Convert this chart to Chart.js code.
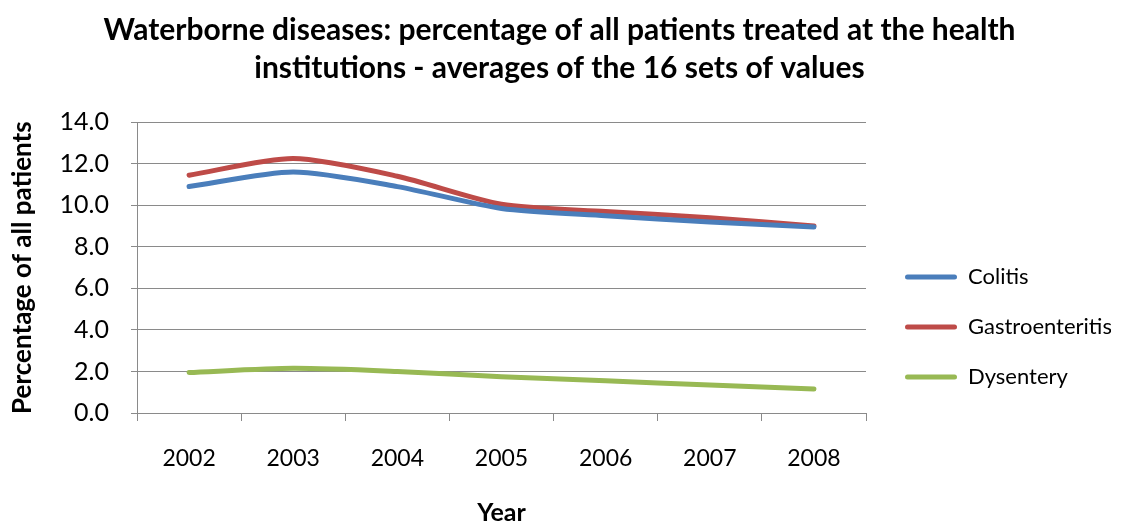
<!DOCTYPE html>
<html>
<head>
<meta charset="utf-8">
<script src="https://cdn.jsdelivr.net/npm/chart.js@4.4.0/dist/chart.umd.min.js"></script>
<style>
html, body { margin: 0; padding: 0; background: #fff; }
</style>
</head>
<body>
<canvas id="chart" width="1133" height="523"></canvas>
<script>
const years = ['2002', '2003', '2004', '2005', '2006', '2007', '2008'];
const colitis = [10.9, 11.6, 10.9, 9.85, 9.5, 9.2, 8.95];
const gastroenteritis = [11.45, 12.25, 11.4, 10.05, 9.7, 9.4, 9.0];
const dysentery = [1.95, 2.15, 2.0, 1.75, 1.55, 1.35, 1.15];
const yMin = 0, yMax = 14, yStep = 2;

const axisGrey = '#8a8a8a';
const fontFamily = 'Lato, "Open Sans", sans-serif';

// moves the legend block to where the reference has it
const legendShift = {
    id: 'legendShift',
    beforeDraw(chart) {
        const lg = chart.legend;
        const h = lg.bottom - lg.top;
        const pad = lg.options.labels.padding;
        const fs = lg.options.labels.font.size;
        lg.left = 905 - pad;
        lg.top = 277 - pad - fs / 2;
        lg.bottom = lg.top + h;
    }
};

const ctx = document.getElementById('chart').getContext('2d');
const chart = new Chart(ctx, {
    type: 'line',
    data: {
        labels: years,
        datasets: [
            { label: 'Colitis', data: colitis, borderColor: '#4a7ebb', backgroundColor: '#4a7ebb' },
            { label: 'Gastroenteritis', data: gastroenteritis, borderColor: '#be4b48', backgroundColor: '#be4b48' },
            { label: 'Dysentery', data: dysentery, borderColor: '#98b954', backgroundColor: '#98b954' }
        ]
    },
    options: {
        responsive: false,
        animation: false,
        layout: { padding: { left: 8, right: 10, top: 11, bottom: 0 } },
        datasets: {
            line: {
                borderWidth: 5,
                pointRadius: 0,
                tension: 0.25,
                borderCapStyle: 'round',
                borderJoinStyle: 'round'
            }
        },
        plugins: {
            title: {
                display: true,
                text: ['Waterborne diseases: percentage of all patients treated at the health',
                       'institutions - averages of the 16 sets of values'],
                color: '#000',
                font: { family: fontFamily, size: 30, weight: 'bold', lineHeight: 1.27 },
                padding: { top: 0, bottom: 35 }
            },
            legend: {
                position: 'right',
                align: 'start',
                labels: {
                    color: '#000',
                    font: { family: fontFamily, size: 22 },
                    boxWidth: 52,
                    boxHeight: 5,
                    padding: 28,
                    useBorderRadius: true,
                    borderRadius: 2.5,
                    generateLabels(chart) {
                        const items = Chart.defaults.plugins.legend.labels.generateLabels(chart);
                        items.forEach(it => { it.lineWidth = 0; it.fillStyle = it.strokeStyle; });
                        return items;
                    }
                }
            },
            tooltip: { enabled: false }
        },
        scales: {
            x: {
                offset: true,
                grid: {
                    offset: true,
                    drawOnChartArea: false,
                    drawTicks: true,
                    tickLength: 8,
                    color: axisGrey
                },
                border: { color: axisGrey, width: 1 },
                ticks: { color: '#000', font: { family: fontFamily, size: 23 }, padding: 24 },
                title: {
                    display: true,
                    text: 'Year',
                    color: '#000',
                    font: { family: fontFamily, size: 25, weight: 'bold', lineHeight: 1 },
                    padding: { top: 0, bottom: -2 }
                },
                afterFit(scale) { scale.height = 110; }
            },
            y: {
                min: yMin,
                max: yMax,
                ticks: {
                    stepSize: yStep,
                    color: '#000',
                    font: { family: fontFamily, size: 25 },
                    padding: 22,
                    callback: v => v.toFixed(1)
                },
                grid: { color: axisGrey, tickLength: 6 },
                border: { color: axisGrey, width: 1 },
                title: {
                    display: true,
                    text: 'Percentage of all patients',
                    color: '#000',
                    font: { family: fontFamily, size: 26, weight: 'bold', lineHeight: 1.1 },
                    padding: 0
                },
                afterFit(scale) { scale.width = 137 - 8; }
            }
        }
    },
    plugins: [legendShift]
});

// nudge the right padding so the plot area ends where the reference's does
const diff = chart.chartArea.right - 866;
chart.options.layout.padding.right += diff;
chart.update();
</script>
</body>
</html>
